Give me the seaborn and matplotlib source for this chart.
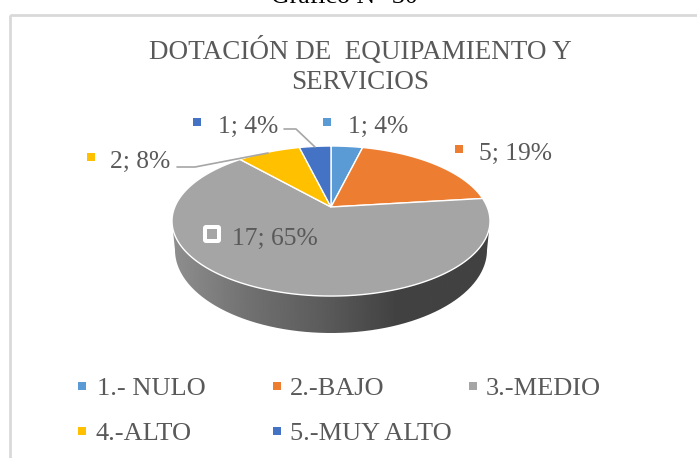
import numpy as np
import matplotlib
matplotlib.use("Agg")
import matplotlib.pyplot as plt
import seaborn as sns
from matplotlib.path import Path
from matplotlib.patches import PathPatch, FancyBboxPatch, Rectangle
from matplotlib.transforms import Transform

categories = ["1.- NULO", "2.-BAJO", "3.-MEDIO", "4.-ALTO", "5.-MUY ALTO"]
values = [1, 5, 17, 2, 1]
percents = [4, 19, 65, 8, 4]
colors = ["#5B9BD5", "#ED7D31", "#A5A5A5", "#FFC000", "#4472C4"]
title = "DOTACIÓN DE  EQUIPAMIENTO Y\nSERVICIOS"
caption = "Gráfico N° 30"

W, H = 697, 458
sns.set_theme(style="white")
plt.rcParams["font.family"] = ["Liberation Serif", "DejaVu Serif"]
TXT = "#595959"
FS = 18.4


class Perspective(Transform):
    """Tilted-disc projection of the pie into pixel coordinates."""
    input_dims = output_dims = 2
    is_separable = False
    has_inverse = False

    def __init__(self, cx, cy, rx, c, k):
        super().__init__()
        self.p = (cx, cy, rx, c, k)

    def transform_non_affine(self, v):
        cx, cy, rx, c, k = self.p
        v = np.asarray(v, float)
        w = 1 + k * v[:, 1]
        return np.column_stack([cx + rx * v[:, 0] / w, cy - c * v[:, 1] / w])

    def transform_path_non_affine(self, path):
        pts = [seg(np.linspace(0, 1, 24)) for seg, _ in path.iter_bezier()]
        return Path(self.transform_non_affine(np.vstack(pts)), closed=True)


fig = plt.figure(figsize=(W / 100, H / 100), dpi=100, facecolor="white")
ax = fig.add_axes([0, 0, 1, 1])

# chart frame: only its top and left edges fall inside the picture
ax.add_patch(Rectangle((10, 14.5), 800, 470, fill=False, ec="#D9D9D9", lw=2, clip_on=True))

# side wall of the disc with its horizontal shading
t = np.linspace(np.pi, 2 * np.pi, 200)
top_x, top_y = 331 + 159 * np.cos(t), 221 - 75 * np.sin(t)
bot_x, bot_y = 331 + 156 * np.cos(t), 250 - 83 * np.sin(t)
outline = np.vstack([np.column_stack([top_x, top_y]),
                     np.column_stack([bot_x, bot_y])[::-1]])
wall = PathPatch(Path(np.vstack([outline, outline[:1]])), fc="none", ec="none",
                 transform=ax.transData)
ax.add_patch(wall)
xs = np.linspace(172, 490, 320)
shade = np.interp(xs, [172, 250, 330, 395, 490], [0.56, 0.44, 0.35, 0.26, 0.26])
im = ax.imshow(shade[None, :], extent=(172, 490, 340, 200), cmap="gray", vmin=0, vmax=1,
               aspect="auto", zorder=1)
im.set_clip_path(wall)

# pie top
wedges, _ = ax.pie(values, colors=sns.color_palette(colors), startangle=90, counterclock=False,
                   wedgeprops=dict(edgecolor="white", linewidth=1))
warp = Perspective(331, 207, 156.2, 72.4, 0.187)
for wg in wedges:
    wg.set_transform(warp + ax.transData)
    wg.set_zorder(2)
    wg.set_clip_on(False)

ax.set_aspect("auto")
ax.set_xlim(0, W)
ax.set_ylim(H, 0)
ax.axis("off")

# caption clipped by the image top, title
ax.text(344.5, 3, caption, ha="center", va="baseline", fontsize=18.6, color="black")
ax.text(360, 66, title, ha="center", va="center", fontsize=19.5, color=TXT, linespacing=1.3)

# leader lines
for pts in ([(284, 129), (296, 129), (315, 147)], [(177, 167), (195, 167), (268, 153)]):
    ax.plot(*zip(*pts), color="#A6A6A6", lw=1.2, zorder=3)

# data labels
label_pos = [(327, 122, 348), (459, 149, 479), (212, 234, 232), (91, 157, 110), (197, 122, 218)]
for (mx, my, tx), v, p, col in zip(label_pos, values, percents, colors):
    if v == 17:
        ax.add_patch(FancyBboxPatch((mx - 7, my - 7), 14, 14, boxstyle="round,pad=2,rounding_size=3",
                                    fc="white", ec="none", zorder=4))
        s = 10
    else:
        s = 8
    ax.add_patch(Rectangle((mx - s / 2, my - s / 2), s, s, fc=col, ec="none", zorder=5))
    ax.text(tx, my + 5, f"{v}; {p}%", ha="left", va="center", fontsize=FS, color=TXT, zorder=5)

# legend
legend_pos = [(82, 386, 97), (277, 386, 290), (473, 386, 486), (82, 431, 95), (277, 431, 290)]
for (mx, my, tx), name, col in zip(legend_pos, categories, colors):
    ax.add_patch(Rectangle((mx - 4, my - 4), 8, 8, fc=col, ec="none"))
    ax.text(tx, my + 3, name, ha="left", va="center", fontsize=19, color=TXT)

fig.savefig("out.png", dpi=100)
